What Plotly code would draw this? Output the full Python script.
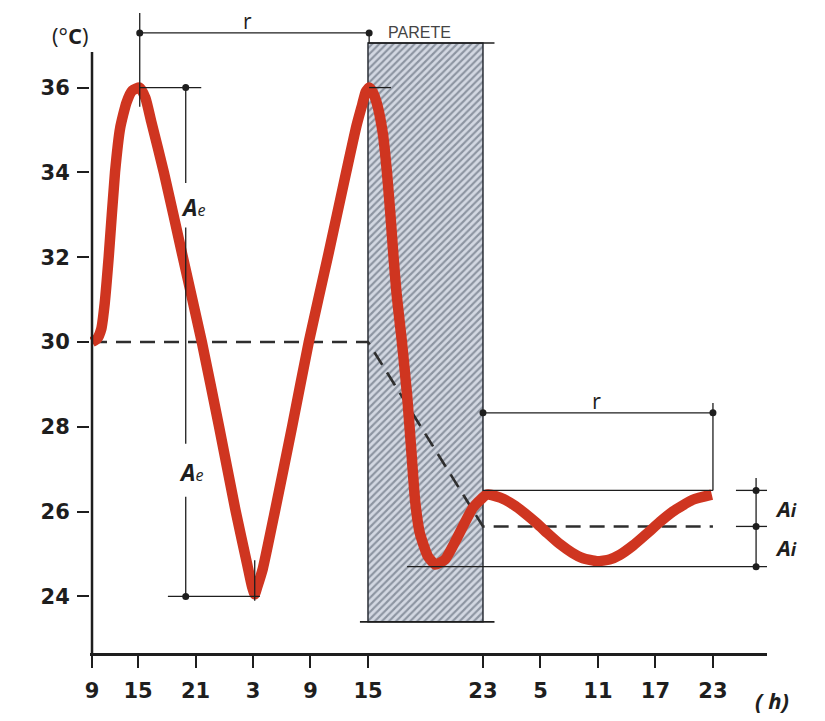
import plotly.graph_objects as go

# ---------------- data ----------------
# x positions (axis units) of the hour ticks and their labels
TICK_POS = [0, 0.8, 1.8, 2.8, 3.8, 4.8, 6.8, 7.8, 8.8, 9.8, 10.8]
TICK_HOURS = ["9", "15", "21", "3", "9", "15", "23", "5", "11", "17", "23"]
Y_TICKS = [24, 26, 28, 30, 32, 34, 36]

# temperature curve (outside air -> through the wall -> inside surface)
CURVE_X = [0, 0.09, 0.16, 0.22, 0.29, 0.4, 0.49, 0.6, 0.7, 0.83, 0.93, 1.03,
           1.25, 1.58, 1.91, 2.21, 2.5, 2.7, 2.78, 2.83, 2.88, 2.97, 3.18, 3.48,
           3.77, 4.1, 4.42, 4.6, 4.7, 4.76, 4.82, 4.88, 4.96, 5.06, 5.13, 5.19,
           5.25, 5.3, 5.39, 5.48, 5.55, 5.62, 5.7, 5.84, 5.97, 6.14, 6.35, 6.63,
           6.87, 7.1, 7.32, 7.53, 7.74, 7.93, 8.14, 8.35, 8.54, 8.78, 9.0, 9.18,
           9.41, 9.65, 9.88, 10.1, 10.45, 10.78]
CURVE_T = [30.0, 30.08, 30.3, 30.9, 32.0, 34.0, 35.05, 35.65, 35.93, 36.0, 35.75, 35.2,
           34.0, 32.0, 30.0, 28.0, 26.0, 24.75, 24.25, 24.05, 24.25, 24.65, 26.0, 28.0,
           30.0, 32.0, 34.0, 35.1, 35.6, 35.9, 36.0, 35.9, 35.6, 34.9, 34.0, 33.0,
           31.9, 31.1, 30.0, 28.75, 27.5, 26.25, 25.5, 24.95, 24.75, 24.87, 25.38, 26.1,
           26.4, 26.33, 26.17, 25.96, 25.72, 25.48, 25.23, 25.03, 24.9, 24.83, 24.87, 24.98,
           25.2, 25.48, 25.76, 26.0, 26.28, 26.4]

# mean temperature (dashed)
MEAN_X = [0, 4.8, 6.8, 10.8]
MEAN_T = [30, 30, 25.65, 25.65]

# wall ("PARETE")
WALL_X0, WALL_X1 = 4.8, 6.8
WALL_BOTTOM, WALL_TOP = 23.4, 37.05

# characteristic values
EXT_MAX, EXT_MEAN, EXT_MIN = 36, 30, 24
INT_MAX, INT_MEAN, INT_MIN = 26.5, 25.65, 24.7
PEAK1_X, PEAK2_X, TROUGH_X = 0.83, 4.82, 2.83
INT_START_X, INT_END_X = 6.8, 10.8

# ---------------- layout constants ----------------
X_RANGE = [-0.035, 11.74]
Y_RANGE = [22.665, 37.877]
Y_AXIS_TOP = 36.84
R_TOP = 37.29
R_LOW = 28.33
AE_X = 1.63
DIM_X = 11.55
RED = "#cf3520"
INK = "#1e1e1e"
FONT = "Open Sans"
TICK_FONT = "DejaVu Sans"

fig = go.Figure()

# wall with hatching
fig.add_trace(go.Bar(
    x=[(WALL_X0 + WALL_X1) / 2], y=[WALL_TOP - WALL_BOTTOM], base=[WALL_BOTTOM],
    width=[WALL_X1 - WALL_X0],
    marker=dict(color="#d3d8e2",
                line=dict(color="#2a2e36", width=1.5),
                pattern=dict(shape="/", fgcolor="#46505f", bgcolor="#d3d8e2",
                             size=5, solidity=0.42)),
    hoverinfo="skip", showlegend=False))

# mean (dashed)
fig.add_trace(go.Scatter(x=MEAN_X, y=MEAN_T, mode="lines",
                         line=dict(color="#2e2e2e", width=2.6, dash="15px,9px"),
                         hoverinfo="skip", showlegend=False))

# temperature curve
fig.add_trace(go.Scatter(x=CURVE_X, y=CURVE_T, mode="lines",
                         line=dict(color=RED, width=10.5, shape="spline", smoothing=0.5),
                         hoverinfo="skip", showlegend=False))

# dimension dots
dots_x = [PEAK1_X, PEAK2_X, AE_X, AE_X, INT_START_X, INT_END_X, DIM_X, DIM_X, DIM_X]
dots_y = [R_TOP, R_TOP, EXT_MAX, EXT_MIN, R_LOW, R_LOW, INT_MAX, INT_MEAN, INT_MIN]
fig.add_trace(go.Scatter(x=dots_x, y=dots_y, mode="markers",
                         marker=dict(color=INK, size=7),
                         hoverinfo="skip", showlegend=False))

shapes = []


def seg(x0, y0, x1, y1, w=1.3):
    shapes.append(dict(type="line", xref="x", yref="y", x0=x0, y0=y0, x1=x1, y1=y1,
                       line=dict(color=INK, width=w)))


# y axis line
seg(0, Y_RANGE[0], 0, Y_AXIS_TOP, 2.5)
# top r dimension
seg(PEAK1_X, R_TOP, PEAK2_X, R_TOP)
seg(PEAK1_X, 37.76, PEAK1_X, 35.55)
seg(PEAK2_X, R_TOP, PEAK2_X, WALL_TOP)
# wall top / bottom extensions
seg(WALL_X0, WALL_TOP, 7.0, WALL_TOP, 1.6)
seg(4.66, WALL_BOTTOM, 7.0, WALL_BOTTOM, 1.6)
# Ae dimension
seg(PEAK1_X, EXT_MAX, 1.9, EXT_MAX)
seg(AE_X, EXT_MAX, AE_X, 33.75)
seg(AE_X, 32.7, AE_X, 27.6)
seg(AE_X, 26.35, AE_X, EXT_MIN)
seg(1.32, EXT_MIN, 2.92, EXT_MIN)
seg(TROUGH_X, 24.85, TROUGH_X, 23.9)
seg(PEAK2_X, EXT_MAX, 5.2, EXT_MAX)
# lower r dimension
seg(INT_START_X, R_LOW, INT_END_X, R_LOW)
seg(INT_END_X, 28.56, INT_END_X, INT_MAX)
seg(INT_START_X, INT_MAX, INT_END_X, INT_MAX)
seg(5.48, INT_MIN, X_RANGE[1], INT_MIN)
# Ai dimension
seg(DIM_X, 26.79, DIM_X, INT_MIN)
seg(11.2, INT_MAX, X_RANGE[1], INT_MAX)
seg(11.2, INT_MEAN, X_RANGE[1], INT_MEAN)

AE_TEXT = "<b><i>A</i></b><i><span style='font-size:16px'>e</span></i>"
AI_TEXT = "<b><i>A<span style='font-size:18px'>i</span></i></b>"


def ann(x, y, text, size, xref="x", yref="y", family=FONT, color=INK):
    return dict(x=x, y=y, xref=xref, yref=yref, text=text, showarrow=False,
                xanchor="center", yanchor="middle",
                font=dict(family=family, size=size, color=color))


annotations = [
    ann(2.7, 37.57, "r", 21),
    ann(5.7, 37.31, "PARETE", 16, family="Liberation Sans", color="#444444"),
    ann(8.78, 28.63, "r", 22),
    ann(1.76, 33.18, AE_TEXT, 23),
    ann(1.72, 26.93, AE_TEXT, 23),
    ann(1.028, (INT_MAX + INT_MEAN) / 2, AI_TEXT, 22, xref="paper"),
    ann(1.028, (INT_MEAN + INT_MIN) / 2, AI_TEXT, 22, xref="paper"),
    ann(-0.03, 0.958, "(°<b>C</b>)", 22, xref="paper", yref="paper"),
    ann(1.007, -0.073, "<b><i>( h)</i></b>", 22, xref="paper", yref="paper"),
]

fig.update_layout(
    width=825, height=721,
    margin=dict(l=82, r=66, t=0, b=76),
    paper_bgcolor="white", plot_bgcolor="white",
    shapes=shapes, annotations=annotations,
    showlegend=False,
    xaxis=dict(range=X_RANGE, tickmode="array", tickvals=TICK_POS, ticktext=TICK_HOURS,
               showgrid=False, zeroline=False, showline=True, linecolor=INK, linewidth=2.5,
               ticks="outside", ticklen=12, tickwidth=2, tickcolor=INK,
               ticklabelstandoff=5,
               tickfont=dict(family=TICK_FONT, size=21, color=INK, weight="bold")),
    yaxis=dict(range=Y_RANGE, tickmode="array", tickvals=Y_TICKS,
               ticktext=[str(v) for v in Y_TICKS],
               showgrid=False, zeroline=False, showline=False,
               ticks="outside", ticklen=12, tickwidth=2, tickcolor=INK,
               ticklabelstandoff=3,
               tickfont=dict(family=TICK_FONT, size=21, color=INK, weight="bold")),
)

fig.write_html("out.html")
